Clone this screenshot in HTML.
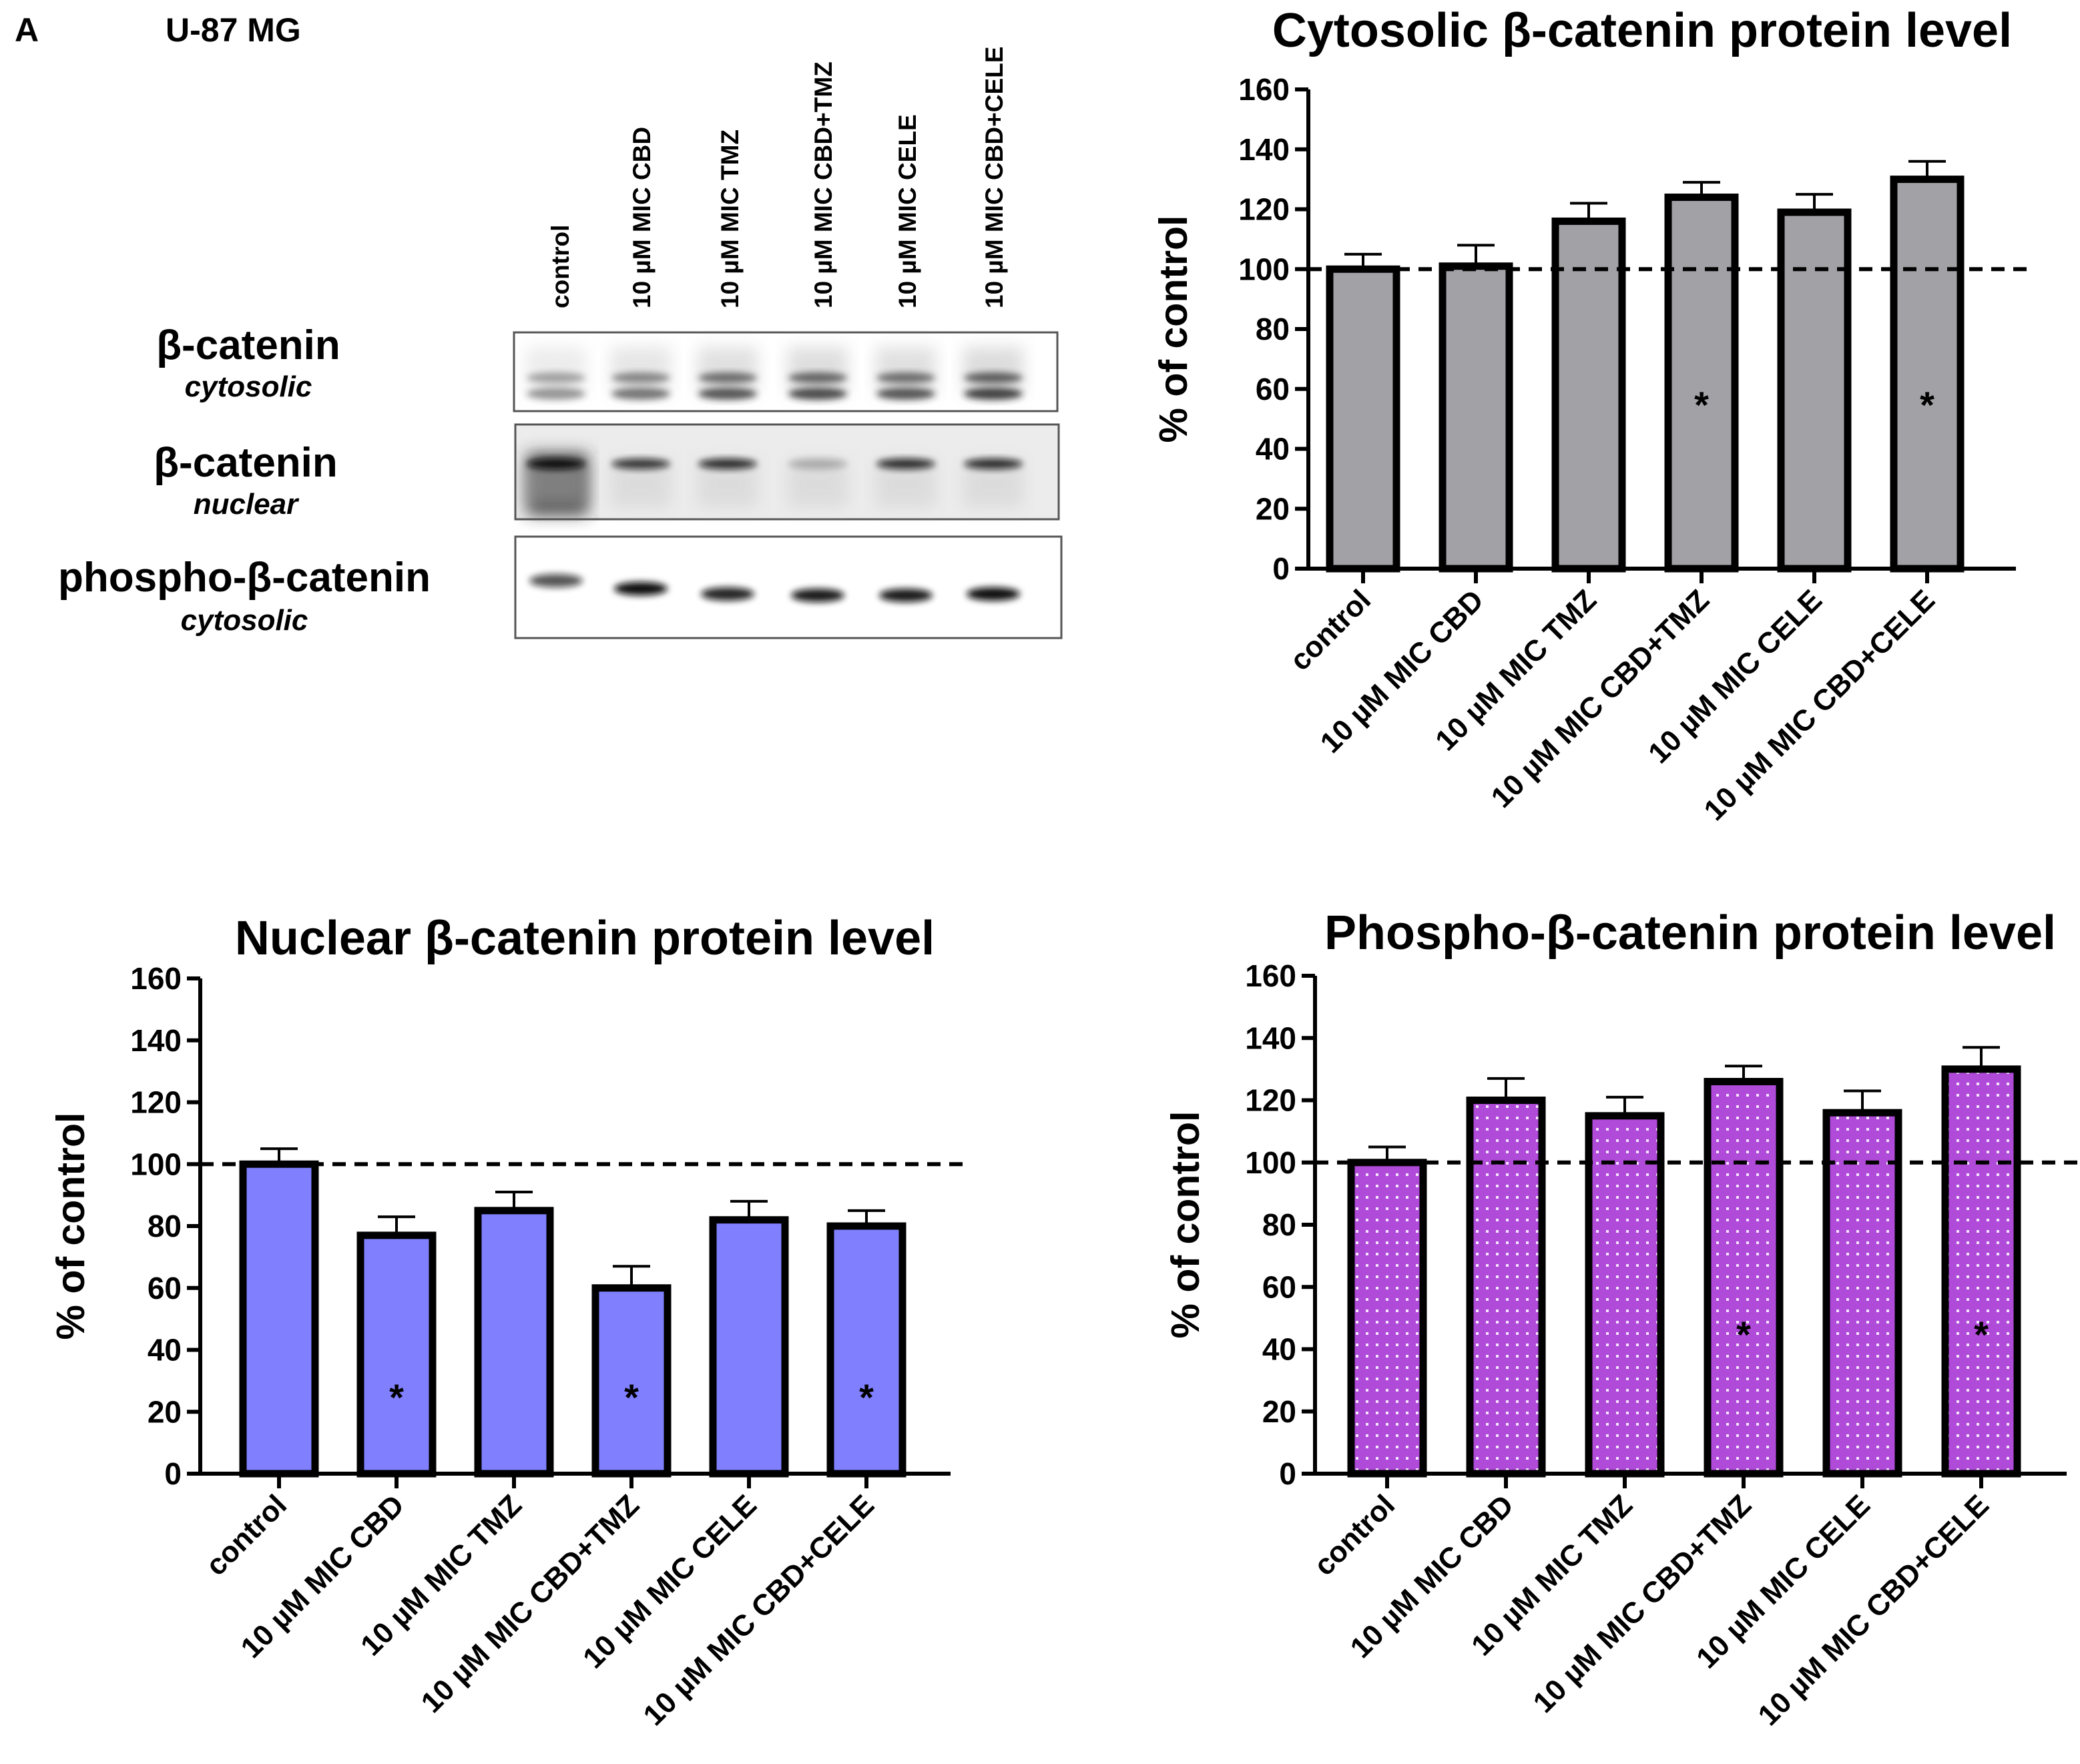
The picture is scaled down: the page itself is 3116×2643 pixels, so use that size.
<!DOCTYPE html>
<html><head><meta charset="utf-8"><style>
html,body{margin:0;padding:0;background:#fff}
svg{display:block}
text{font-family:"Liberation Sans",Arial,sans-serif;font-weight:bold;fill:#000}
</style></head><body>
<svg id="fig" width="3116" height="2643" viewBox="0 0 3116 2643">
<defs>
<pattern id="dots" width="15" height="17" patternUnits="userSpaceOnUse"><rect width="15" height="17" fill="#b04ad8"/><rect x="6" y="7" width="4" height="4" fill="#f4e6ff"/></pattern>
<filter id="blur" x="-20%" y="-50%" width="140%" height="200%"><feGaussianBlur stdDeviation="5"/></filter>
<filter id="blur2" x="-20%" y="-50%" width="140%" height="200%"><feGaussianBlur stdDeviation="12"/></filter>
</defs>
<g id="blot"></g>
<g id="c1"></g>
<g id="c2"></g>
<g id="c3"></g>
</svg>
<script>
const categories = ["control","10 µM MIC CBD","10 µM MIC TMZ","10 µM MIC CBD+TMZ","10 µM MIC CELE","10 µM MIC CBD+CELE"];
const yTicks = [0,20,40,60,80,100,120,140,160];
const cytoValues = [100,101,116,124,119,130];
const cytoErrors = [5,7,6,5,6,6];
const cytoSig = [false,false,false,true,false,true];
const nucValues = [100,77,85,60,82,80];
const nucErrors = [5,6,6,7,6,5];
const nucSig = [false,true,false,true,false,true];
const phosValues = [100,120,115,126,116,130];
const phosErrors = [5,7,6,5,7,7];
const phosSig = [false,false,false,true,false,true];

const NS="http://www.w3.org/2000/svg";
function mk(parent,tag,attrs,text){const e=document.createElementNS(NS,tag);for(const k in attrs)e.setAttribute(k,attrs[k]);if(text!==undefined)e.textContent=text;parent.appendChild(e);return e;}

function chart(g,cfg,values,errors,sig){
  const y=v=>cfg.y0-(v/160)*(cfg.y0-cfg.y160);
  const x=i=>cfg.x0+cfg.first+i*cfg.step;
  let t=mk(g,'text',{x:cfg.titleX,y:cfg.titleY,'text-anchor':'middle','font-size':72},cfg.title);
  
  
  t=mk(g,'text',{x:0,y:0,'text-anchor':'middle','font-size':59,transform:`translate(${cfg.ylabX},${(cfg.y0+cfg.y160)/2}) rotate(-90)`},'% of control');
  
  
  yTicks.forEach(v=>{
    const l=mk(g,'line',{x1:cfg.x0-20,x2:cfg.x0,y1:y(v),y2:y(v),stroke:'#000','stroke-width':6});
    
    
    const tl=mk(g,'text',{x:cfg.x0-28,y:y(v)+16,'text-anchor':'end','font-size':46},String(v));
    
    
  });
  values.forEach((v,i)=>{
    const cx=x(i),w=cfg.bw;
    const el=mk(g,'line',{x1:cx,x2:cx,y1:y(v),y2:y(v+errors[i]),stroke:'#000','stroke-width':4});
    
    
    const ec=mk(g,'line',{x1:cx-28,x2:cx+28,y1:y(v+errors[i]),y2:y(v+errors[i]),stroke:'#000','stroke-width':4});
    
    
    const r=mk(g,'rect',{x:cx-w/2,y:y(v),width:w,height:y(0)-y(v),fill:cfg.fill,stroke:'#000','stroke-width':11});
    
    
    if(sig[i]){const s=mk(g,'text',{x:cx,y:y(cfg.starV)+30,'text-anchor':'middle','font-size':56,'font-weight':'normal'},'*');
      
      }
    const tk=mk(g,'line',{x1:cx,x2:cx,y1:cfg.y0,y2:cfg.y0+22,stroke:'#000','stroke-width':6});
    
    
    const lb=mk(g,'text',{x:0,y:0,'text-anchor':'end','font-size':44,transform:`translate(${cx+14},${cfg.y0+50}) rotate(-45)`},categories[i]);
    
    
  });
  const ax=mk(g,'path',{d:`M${cfg.x0},${cfg.y160} V${cfg.y0} H${cfg.xEnd}`,fill:'none',stroke:'#000','stroke-width':6});
  
  
  const d=mk(g,'line',{x1:cfg.x0,x2:cfg.xEnd+18,y1:y(100),y2:y(100),stroke:'#000','stroke-width':6,'stroke-dasharray':'20 13'});
  
  
}
chart(document.getElementById('c1'),{x0:1960,y0:852,y160:134,first:82,step:169,bw:100,xEnd:3020,fill:'#a1a1a6',title:'Cytosolic β-catenin protein level',titleX:2460,titleY:70,ylabX:1778,starV:57},cytoValues,cytoErrors,cytoSig);
chart(document.getElementById('c2'),{x0:300,y0:2208,y160:1466,first:118,step:176,bw:108,xEnd:1424,fill:'#8080ff',title:'Nuclear β-catenin protein level',titleX:876,titleY:1430,ylabX:126,starV:27},nucValues,nucErrors,nucSig);
chart(document.getElementById('c3'),{x0:1970,y0:2208,y160:1462,first:108,step:178,bw:108,xEnd:3096,fill:'url(#dots)',title:'Phospho-β-catenin protein level',titleX:2532,titleY:1422,ylabX:1796,starV:47},phosValues,phosErrors,phosSig);

// western blot
const b=document.getElementById('blot');
function T(x,y,s,txt,extra,name){const e=mk(b,'text',Object.assign({x:x,y:y,'font-size':s},extra||{}),txt);return e;}
T(22,62,50,'A',{},'panel-letter');
T(248,62,50,'U-87 MG',{},'cell-line-label');
const lanes=[840,962,1094,1234,1360,1490];
categories.forEach((c,i)=>{const e=T(0,0,37,c,{transform:`translate(${lanes[i]+12},462) rotate(-90)`},'lane-label');});
T(372,538,62,'β-catenin',{'text-anchor':'middle'},'row-label-cyto');
T(372,594,44,'cytosolic',{'text-anchor':'middle','font-style':'italic'},'row-sublabel');
T(368,714,62,'β-catenin',{'text-anchor':'middle'},'row-label-nuc');
T(368,770,44,'nuclear',{'text-anchor':'middle','font-style':'italic'},'row-sublabel');
T(366,886,62,'phospho-β-catenin',{'text-anchor':'middle'},'row-label-phospho');
T(366,944,44,'cytosolic',{'text-anchor':'middle','font-style':'italic'},'row-sublabel');
const boxes=[[770,498,814,118,'#fff'],[772,636,814,142,'#ececec'],[772,804,818,152,'#fff']];
boxes.forEach((bx,k)=>{const r=mk(b,'rect',{x:bx[0],y:bx[1],width:bx[2],height:bx[3],fill:bx[4],stroke:'#555','stroke-width':3});});
const bandX=[833,960,1090,1225,1357,1488];
const cytoOp=[0.45,0.6,0.75,0.8,0.75,0.85];
bandX.forEach((cx,i)=>{
  mk(b,'rect',{x:cx-45,y:520,width:90,height:70,fill:'#bbb',opacity:cytoOp[i]*0.6,filter:'url(#blur2)'});
  mk(b,'ellipse',{cx:cx,cy:566,rx:44,ry:8,fill:'#444',opacity:cytoOp[i],filter:'url(#blur)'});
  mk(b,'ellipse',{cx:cx,cy:590,rx:44,ry:9,fill:'#222',opacity:cytoOp[i],filter:'url(#blur)'});
});
const nucOp=[1,0.8,0.85,0.25,0.85,0.85];
bandX.forEach((cx,i)=>{
  if(i===0){mk(b,'rect',{x:790,y:680,width:90,height:90,fill:'#333',filter:'url(#blur2)'});}
  mk(b,'rect',{x:cx-45,y:690,width:90,height:70,fill:'#ccc',opacity:0.5,filter:'url(#blur2)'});
  mk(b,'ellipse',{cx:cx,cy:695,rx:44,ry:8,fill:'#111',opacity:nucOp[i],filter:'url(#blur)'});
});
const phY=[870,882,890,892,892,890];
const phOp=[0.7,1,0.9,0.95,0.95,1];
bandX.forEach((cx,i)=>{
  mk(b,'ellipse',{cx:cx,cy:phY[i],rx:40,ry:10,fill:'#111',opacity:phOp[i],filter:'url(#blur)'});
});
</script>
</body></html>
